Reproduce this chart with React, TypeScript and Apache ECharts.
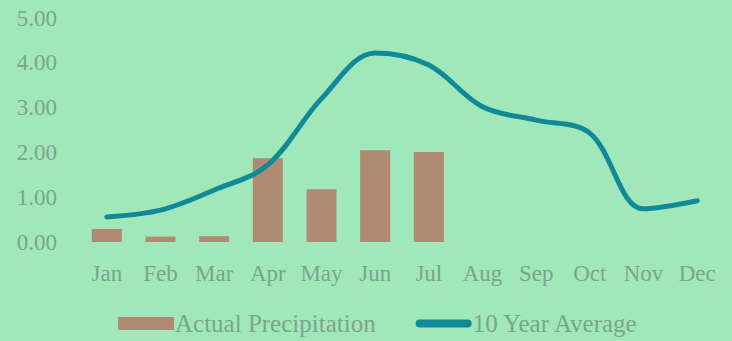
import React, { useEffect, useRef } from "react";
import * as echarts from "echarts";

const months = ["Jan", "Feb", "Mar", "Apr", "May", "Jun", "Jul", "Aug", "Sep", "Oct", "Nov", "Dec"];
const actualPrecipitation: (number | null)[] = [0.29, 0.12, 0.13, 1.87, 1.18, 2.05, 2.01, null, null, null, null, null];
const tenYearAverage = [0.56, 0.71, 1.16, 1.72, 3.2, 4.22, 3.95, 3.02, 2.72, 2.43, 0.74, 0.92];
const yTicks = { min: 0, max: 5, interval: 1 };

const BG = "#a0e8ba";
const TEXT = "#7ba58c";
const BAR = "#b08a72";
const LINE = "#118a98";
const FONT = "Liberation Serif";

const LINE_ICON = "path://M4 0H52A4 4 0 0 1 52 8H4A4 4 0 0 1 4 0Z";

export default function App() {
  const ref = useRef<HTMLDivElement>(null);
  useEffect(() => {
    if (!ref.current) return;
    const chart = echarts.init(ref.current, null, { renderer: "svg" });
    chart.setOption({
      animation: false,
      backgroundColor: BG,
      grid: { left: 80, right: 8, top: 18, bottom: 99, containLabel: false },
      legend: {
        bottom: 0,
        left: 113,
        itemWidth: 56,
        itemHeight: 13,
        itemGap: 40,
        textStyle: { color: TEXT, fontFamily: FONT, fontSize: 25, padding: [0, 0, 0, -4] },
        data: [
          { name: "Actual Precipitation", icon: "rect" },
          { name: "10 Year Average", icon: LINE_ICON, itemStyle: { color: LINE } },
        ],
      },
      xAxis: {
        type: "category",
        data: months,
        axisLine: { show: false },
        axisTick: { show: false },
        axisLabel: { color: TEXT, fontFamily: FONT, fontSize: 23, margin: 20, interval: 0 },
      },
      yAxis: {
        type: "value",
        min: yTicks.min,
        max: yTicks.max,
        interval: yTicks.interval,
        splitLine: { show: false },
        axisLine: { show: false },
        axisTick: { show: false },
        axisLabel: {
          color: TEXT,
          fontFamily: FONT,
          fontSize: 23,
          margin: 23,
          formatter: (v: number) => v.toFixed(2),
        },
      },
      series: [
        {
          name: "Actual Precipitation",
          type: "bar",
          data: actualPrecipitation,
          barWidth: 30,
          itemStyle: { color: BAR },
        },
        {
          name: "10 Year Average",
          type: "line",
          data: tenYearAverage,
          smooth: 0.35,
          symbol: "none",
          lineStyle: { color: LINE, width: 5, cap: "round" },
          itemStyle: { color: LINE },
        },
      ],
    });
    return () => chart.dispose();
  }, []);
  return (
    <div
      ref={ref}
      style={{ position: "fixed", left: 0, top: 0, width: 732, height: 341 }}
    />
  );
}
